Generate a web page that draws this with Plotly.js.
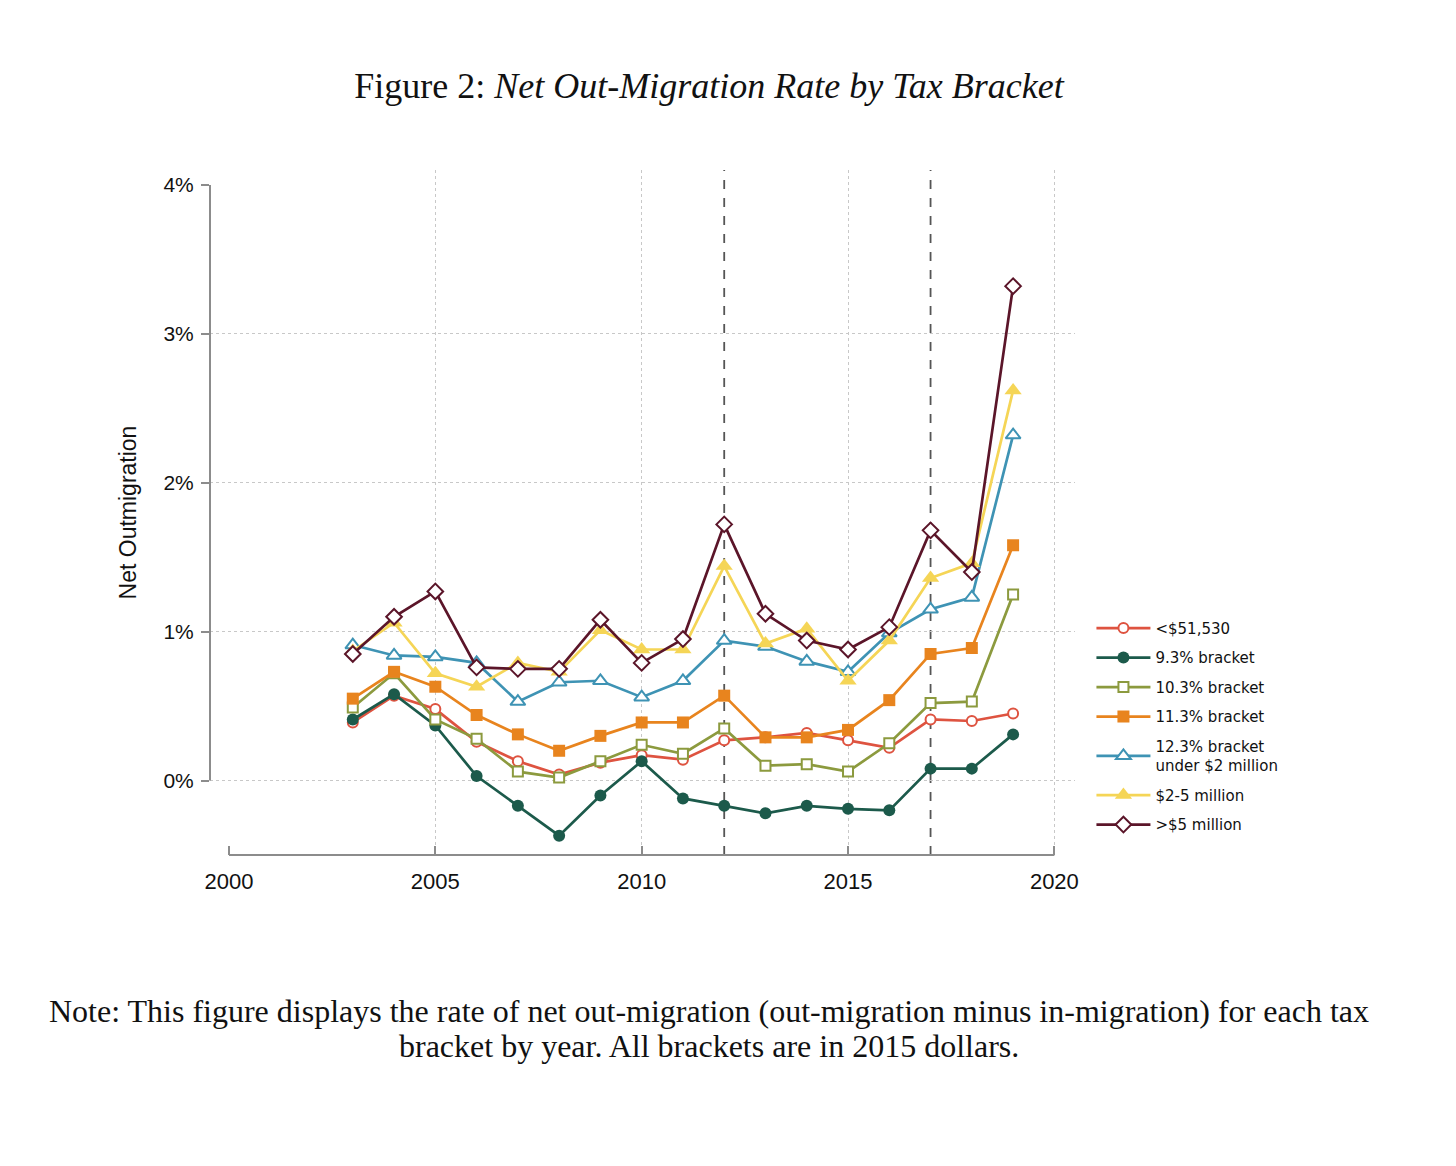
<!DOCTYPE html>
<html>
<head>
<meta charset="utf-8">
<script src="https://cdn.plot.ly/plotly-3.0.1.min.js"></script>
<style>
  html, body { margin: 0; padding: 0; background: white; }
  #chart { width: 1456px; height: 1166px; }
</style>
</head>
<body>
<div id="chart"></div>
<script>
// years on the x axis
const years = [2003, 2004, 2005, 2006, 2007, 2008, 2009, 2010, 2011,
               2012, 2013, 2014, 2015, 2016, 2017, 2018, 2019];

// net out-migration, percent
const below51530 = [0.39, 0.57, 0.48, 0.26, 0.13, 0.04, 0.12, 0.17, 0.14,
                    0.27, 0.29, 0.32, 0.27, 0.22, 0.41, 0.40, 0.45];
const bracket93 = [0.41, 0.58, 0.37, 0.03, -0.17, -0.37, -0.10, 0.13, -0.12,
                   -0.17, -0.22, -0.17, -0.19, -0.20, 0.08, 0.08, 0.31];
const bracket103 = [0.49, 0.72, 0.41, 0.28, 0.06, 0.02, 0.13, 0.24, 0.18,
                    0.35, 0.10, 0.11, 0.06, 0.25, 0.52, 0.53, 1.25];
const bracket113 = [0.55, 0.73, 0.63, 0.44, 0.31, 0.20, 0.30, 0.39, 0.39,
                    0.57, 0.29, 0.29, 0.34, 0.54, 0.85, 0.89, 1.58];
const bracket123 = [0.91, 0.84, 0.83, 0.79, 0.53, 0.66, 0.67, 0.56, 0.67,
                    0.94, 0.90, 0.80, 0.73, 0.99, 1.15, 1.23, 2.32];
const million2to5 = [0.87, 1.06, 0.72, 0.63, 0.79, 0.73, 1.01, 0.88, 0.88,
                     1.44, 0.92, 1.02, 0.67, 0.94, 1.36, 1.46, 2.62];
const over5million = [0.85, 1.10, 1.27, 0.76, 0.75, 0.75, 1.08, 0.79, 0.95,
                      1.72, 1.12, 0.94, 0.88, 1.03, 1.68, 1.40, 3.32];

const seriesNames = ['<$51,530', '9.3% bracket', '10.3% bracket', '11.3% bracket',
                     '12.3% bracket<br>under $2 million', '$2-5 million', '>$5 million'];

const xTicks = [2000, 2005, 2010, 2015, 2020];
const xGrid = [2005, 2010, 2015, 2020];
const yTicks = [0, 1, 2, 3, 4];
const yTickText = ['0%', '1%', '2%', '3%', '4%'];
const yGrid = [0, 1, 2, 3];
const reformYears = [2012, 2017];

const noteLines = [
    'Note: This figure displays the rate of net out-migration (out-migration minus in-migration) for each tax',
    'bracket by year. All brackets are in 2015 dollars.'
];

const series = [
    { y: below51530, color: '#de5340', symbol: 'circle', hollow: true, size: 10 },
    { y: bracket93, color: '#1c5a4b', symbol: 'circle', hollow: false, size: 12 },
    { y: bracket103, color: '#8c9a3e', symbol: 'square', hollow: true, size: 10 },
    { y: bracket113, color: '#e8841e', symbol: 'square', hollow: false, size: 12 },
    { y: bracket123, color: '#3e93b4', symbol: 'triangle-up', hollow: true, size: 13 },
    { y: million2to5, color: '#f5d556', symbol: 'triangle-up', hollow: false, size: 15 },
    { y: over5million, color: '#5b1529', symbol: 'diamond', hollow: true, size: 12 }
];

const traces = series.map((s, i) => ({
    x: years,
    y: s.y,
    type: 'scatter',
    mode: 'lines+markers',
    name: seriesNames[i],
    legendgroup: 'g' + i,
    line: { color: s.color, width: 2.7 },
    marker: {
        symbol: s.symbol,
        size: s.size,
        color: s.hollow ? 'white' : s.color,
        line: { color: s.color, width: s.hollow ? 2 : 0 }
    },
    hovertemplate: '%{x}: %{y:.2f}%<extra></extra>'
}));

// axis lines only over the tick range, reform years dashed
const shapes = [
    { type: 'line', xref: 'paper', yref: 'y', x0: 0, x1: 0, y0: yTicks[0], y1: yTicks[yTicks.length - 1],
      line: { color: '#8c8c8c', width: 2 } },
    { type: 'line', xref: 'x', yref: 'paper', x0: xTicks[0], x1: xTicks[xTicks.length - 1], y0: 0, y1: 0,
      line: { color: '#8c8c8c', width: 2 } }
].concat(reformYears.map(yr => ({
    type: 'line', xref: 'x', yref: 'paper', x0: yr, x1: yr, y0: 0, y1: 1,
    line: { color: '#555555', width: 1.8, dash: 'dash' }, layer: 'below'
})));

const sansFont = '"Liberation Sans", Arial, sans-serif';
const serifFont = '"Liberation Serif", "DejaVu Serif", serif';

// plot area: 210..1075 px across, 170..855 px down
const annotations = noteLines.map((txt, i) => ({
    text: txt,
    xref: 'paper', yref: 'paper',
    x: (709 - 210) / 865, xanchor: 'center',
    y: (855 - (1011 + i * 35)) / 685, yanchor: 'middle',
    showarrow: false,
    font: { family: serifFont, size: 32, color: '#111' }
}));

const layout = {
    width: 1456,
    height: 1166,
    paper_bgcolor: 'white',
    plot_bgcolor: 'white',
    margin: { t: 170, r: 381, b: 311, l: 210 },
    title: {
        text: 'Figure 2: <i>Net Out-Migration Rate by Tax Bracket</i>',
        font: { family: serifFont, size: 36, color: '#111' },
        x: 709 / 1456, xanchor: 'center', xref: 'container',
        y: 1 - 85 / 1166, yanchor: 'middle', yref: 'container'
    },
    xaxis: {
        range: [1999.54, 2020.5],
        tickvals: xTicks,
        ticks: 'inside',
        ticklen: 9,
        tickwidth: 2,
        tickcolor: '#8c8c8c',
        tickfont: { family: sansFont, size: 22, color: '#111' },
        ticklabelstandoff: 11,
        showline: false,
        showgrid: false,
        zeroline: false,
        fixedrange: true
    },
    xaxis2: {
        overlaying: 'x',
        matches: 'x',
        range: [1999.54, 2020.5],
        tickvals: xGrid,
        showticklabels: false,
        ticks: '',
        showgrid: true,
        gridcolor: '#c8c8c8',
        griddash: 'dot',
        gridwidth: 1.2,
        zeroline: false,
        showline: false
    },
    yaxis: {
        range: [-0.5, 4.1],
        tickvals: yTicks,
        ticktext: yTickText,
        ticks: 'outside',
        ticklen: 8,
        tickwidth: 2,
        tickcolor: '#8c8c8c',
        tickfont: { family: sansFont, size: 21, color: '#111' },
        ticklabelstandoff: 3,
        showline: false,
        showgrid: false,
        zeroline: false,
        title: {
            text: 'Net Outmigration',
            font: { family: sansFont, size: 23, color: '#111' },
            standoff: 20
        }
    },
    yaxis2: {
        overlaying: 'y',
        matches: 'y',
        range: [-0.5, 4.1],
        tickvals: yGrid,
        showticklabels: false,
        ticks: '',
        showgrid: true,
        gridcolor: '#c8c8c8',
        griddash: 'dot',
        gridwidth: 1.2,
        zeroline: false,
        showline: false
    },
    shapes: shapes,
    showlegend: true,
    legend: {
        x: 1.019, xanchor: 'left',
        y: 0.355, yanchor: 'top',
        font: { family: '"DejaVu Sans", Verdana, sans-serif', size: 15, color: '#111' },
        traceorder: 'grouped',
        tracegroupgap: 7,
        itemwidth: 54,
        bgcolor: 'rgba(0,0,0,0)'
    },
    annotations: annotations,
    hovermode: 'closest'
};

// grid traces need an anchor on the second axes
traces.unshift({
    x: [xGrid[0]], y: [yGrid[0]], xaxis: 'x2', yaxis: 'y2',
    type: 'scatter', mode: 'markers', marker: { opacity: 0 },
    showlegend: false, hoverinfo: 'skip'
});

Plotly.newPlot('chart', traces, layout, { displayModeBar: false });
</script>
</body>
</html>
